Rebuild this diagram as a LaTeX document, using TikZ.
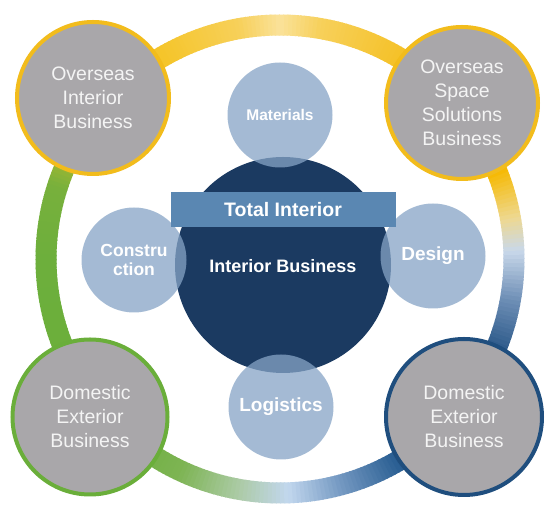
\documentclass[tikz,border=0pt]{standalone}
\usepackage{fontspec}
\setmainfont{Liberation Sans}
% palette
\definecolor{cgray}{RGB}{169,167,170}
\definecolor{ctext}{RGB}{244,244,244}
\definecolor{navy}{RGB}{27,58,97}
\definecolor{banner}{RGB}{90,135,178}
\definecolor{petalblue}{RGB}{134,164,198}
\definecolor{byellow}{RGB}{242,188,28}
\definecolor{bgreen}{RGB}{106,174,58}
\definecolor{bblue}{RGB}{31,78,126}
% colour stops of the outer ring
\definecolor{rA}{RGB}{109,175,60}
\definecolor{rB}{RGB}{106,174,58}
\definecolor{rC}{RGB}{125,180,83}
\definecolor{rD}{RGB}{172,203,166}
\definecolor{rE}{RGB}{194,215,238}
\definecolor{rF}{RGB}{116,153,194}
\definecolor{rG}{RGB}{42,94,146}
\definecolor{rH}{RGB}{30,78,128}
\definecolor{rI}{RGB}{110,143,182}
\definecolor{rJ}{RGB}{201,216,234}
\definecolor{rK}{RGB}{238,216,144}
\definecolor{rL}{RGB}{246,185,0}
\definecolor{rM}{RGB}{245,194,42}
\definecolor{rN}{RGB}{247,208,90}
\definecolor{rO}{RGB}{250,226,154}
\definecolor{rP}{RGB}{245,197,42}
\definecolor{rQ}{RGB}{242,192,26}
\definecolor{rR}{RGB}{196,190,40}
\definecolor{rS}{RGB}{120,176,60}
\begin{document}
\begin{tikzpicture}[x=1pt,y=1pt,
  corner/.style={circle, inner sep=0pt, line width=4pt, fill=cgray,
    text=ctext, align=center, font=\fontsize{19.5}{24}\selectfont},
  petal/.style={circle, minimum size=105pt, inner sep=0pt, fill=petalblue,
    fill opacity=0.75, text opacity=1, text=white, align=center,
    font=\bfseries\fontsize{19}{20}\selectfont},
  ringseg/.style={line width=21pt},
  label/.style={text=white, font=\bfseries\fontsize{18}{20}\selectfont},
]
\useasboundingbox (0,0) rectangle (547,508);
\fill[white] (0,0) rectangle (547,508);

% outer ring, shaded along its length by short arc pieces
\coordinate (O) at (280,249);
\foreach \a/\b/\ca/\cb in {-180/-135/rA/rB, -135/-115/rB/rC, -115/-100/rC/rD,
    -100/-88/rD/rE, -88/-75/rE/rF, -75/-60/rF/rG, -60/-25/rG/rH,
    -25/-10/rH/rI, -10/2/rI/rJ, 2/10/rJ/rK, 10/22/rK/rL, 22/60/rL/rM,
    60/80/rM/rN, 80/90/rN/rO, 90/100/rO/rN, 100/120/rN/rP, 120/140/rP/rQ,
    140/150/rQ/rR, 150/162/rR/rS, 162/180/rS/rA}{
  \pgfmathtruncatemacro\n{\b-\a-1}
  \foreach \i in {0,...,\n}{
    \pgfmathsetmacro\p{100*(\i+0.5)/(\b-\a)}
    \pgfmathsetmacro\s{\a+\i}
    \pgfmathsetmacro\e{\a+\i+1.3}
    \draw[ringseg, draw=\cb!\p!\ca] (O) ++(\s:234) arc[start angle=\s, end angle=\e, radius=234];
  }
}

% business circles on the ring
\node[corner, minimum size=152pt, draw=byellow] (ovint) at (93,410) {Overseas\\Interior\\Business};
\node[corner, minimum size=152pt, draw=byellow] (ovspace) at (462,405) {Overseas\\Space\\Solutions\\Business};
\node[corner, minimum size=155pt, draw=bgreen] (domleft) at (90,91) {Domestic\\Exterior\\Business};
\node[corner, minimum size=156pt, draw=bblue] (domright) at (464,91) {Domestic\\Exterior\\Business};

% core
\node[circle, minimum size=216pt, inner sep=0pt, fill=navy] (core) at (283,243) {};

% surrounding functions
\node[petal, font=\bfseries\fontsize{15.5}{18}\selectfont] (materials) at (280,393) {Materials};
\node[petal, font=\bfseries\fontsize{17.5}{19}\selectfont] (construction) at (134,248) {Constru\\ction};
\node[petal] (design) at (433,252) {Design};
\node[petal] (logistics) at (281,101) {Logistics};

% banner and core label
\node[rectangle, minimum width=225pt, minimum height=35pt, inner sep=0pt,
  fill=banner, text=white, font=\bfseries\fontsize{19.5}{20}\selectfont] (total) at (283,298) {Total Interior};
\node[label] (interior) at (283,242) {Interior Business};
\end{tikzpicture}
\end{document}
